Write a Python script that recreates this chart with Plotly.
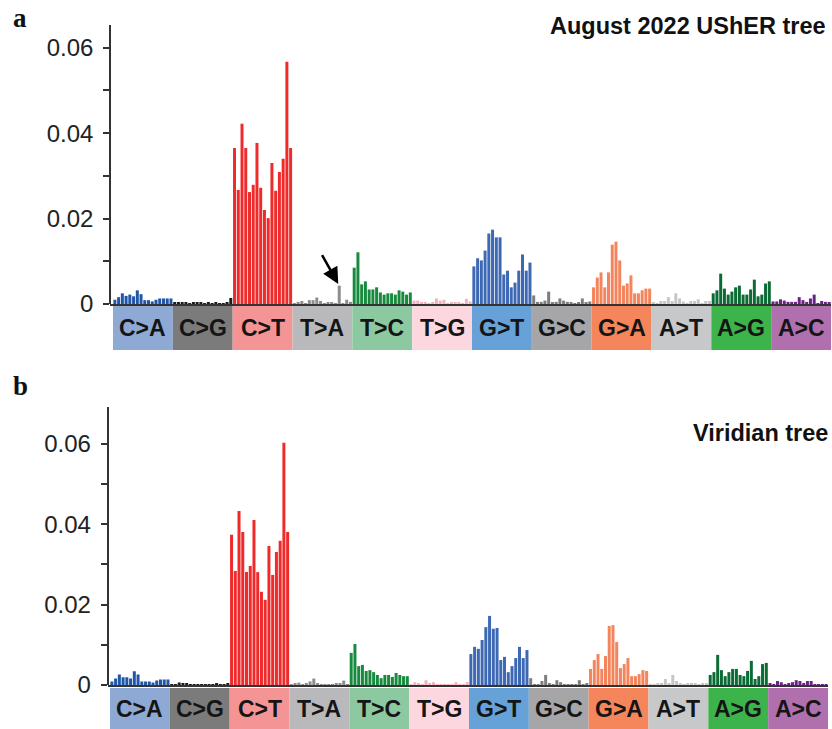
import plotly.graph_objects as go

# ---------------- data (rates, per 16 trinucleotide contexts) ----------------
mut_types = ["C>A", "C>G", "C>T", "T>A", "T>C", "T>G",
             "G>T", "G>C", "G>A", "A>T", "A>G", "A>C"]

bar_colors = ["#1f56a8", "#1c1c1c", "#ee2a2a", "#8c8c8c", "#178a3e", "#f6b0bd",
              "#3d68b4", "#7d7d7d", "#f3845c", "#c6c6c6", "#0b6b35", "#6b2185"]
box_colors = ["#8eaad4", "#7b7b7b", "#f59494", "#b9b9bb", "#8dc9a0", "#fdd7df",
              "#66a2d8", "#a6a6a9", "#f5855b", "#c7c8ca", "#3cb44b", "#b070ae"]

# panel a: August 2022 UShER tree
usher_CA = [0.0010, 0.0016, 0.0025, 0.0019, 0.0022, 0.0018, 0.0032, 0.0023, 0.0009, 0.0009, 0.0006, 0.0010, 0.0013, 0.0013, 0.0013, 0.0013]
usher_CG = [0.0004, 0.0003, 0.0003, 0.0004, 0.0002, 0.0004, 0.0004, 0.0003, 0.0002, 0.0003, 0.0002, 0.0003, 0.0001, 0.0002, 0.0003, 0.0014]
usher_CT = [0.0365, 0.0267, 0.0422, 0.0365, 0.0262, 0.0279, 0.0377, 0.0272, 0.0220, 0.0201, 0.0330, 0.0265, 0.0309, 0.0340, 0.0567, 0.0365]
usher_TA = [0.0002, 0.0005, 0.0007, 0.0002, 0.0009, 0.0009, 0.0015, 0.0007, 0.0002, 0.0004, 0.0004, 0.0002, 0.0043, 0.0001, 0.0010, 0.0005]
usher_TC = [0.0085, 0.0121, 0.0046, 0.0053, 0.0034, 0.0034, 0.0039, 0.0027, 0.0022, 0.0025, 0.0025, 0.0022, 0.0032, 0.0029, 0.0022, 0.0027]
usher_TG = [0.0008, 0.0008, 0.0003, 0.0005, 0.0002, 0.0004, 0.0013, 0.0008, 0.0010, 0.0002, 0.0004, 0.0004, 0.0004, 0.0002, 0.0012, 0.0006]
usher_GT = [0.0088, 0.0107, 0.0102, 0.0125, 0.0165, 0.0174, 0.0156, 0.0156, 0.0069, 0.0078, 0.0039, 0.0050, 0.0078, 0.0116, 0.0078, 0.0097]
usher_GC = [0.0020, 0.0005, 0.0005, 0.0008, 0.0029, 0.0003, 0.0005, 0.0013, 0.0008, 0.0005, 0.0003, 0.0002, 0.0003, 0.0013, 0.0003, 0.0006]
usher_GA = [0.0039, 0.0062, 0.0074, 0.0039, 0.0074, 0.0139, 0.0146, 0.0102, 0.0043, 0.0048, 0.0067, 0.0025, 0.0025, 0.0032, 0.0036, 0.0036]
usher_AT = [0.0004, 0.0001, 0.0007, 0.0007, 0.0016, 0.0007, 0.0025, 0.0013, 0.0006, 0.0001, 0.0007, 0.0007, 0.0011, 0.0001, 0.0007, 0.0007]
usher_AG = [0.0025, 0.0032, 0.0071, 0.0036, 0.0022, 0.0029, 0.0039, 0.0043, 0.0022, 0.0022, 0.0034, 0.0057, 0.0018, 0.0022, 0.0048, 0.0053]
usher_AC = [0.0006, 0.0006, 0.0011, 0.0008, 0.0005, 0.0005, 0.0005, 0.0016, 0.0009, 0.0005, 0.0013, 0.0022, 0.0001, 0.0007, 0.0005, 0.0004]

# panel b: Viridian tree
virid_CA = [0.0009, 0.0016, 0.0026, 0.0019, 0.0019, 0.0016, 0.0034, 0.0026, 0.0009, 0.0009, 0.0009, 0.0006, 0.0011, 0.0014, 0.0014, 0.0014]
virid_CG = [0.0001, 0.0001, 0.0006, 0.0004, 0.0004, 0.0001, 0.0001, 0.0001, 0.0001, 0.0001, 0.0001, 0.0001, 0.0004, 0.0001, 0.0001, 0.0004]
virid_CT = [0.0374, 0.0284, 0.0433, 0.0381, 0.0281, 0.0296, 0.0411, 0.0281, 0.0232, 0.0212, 0.0346, 0.0274, 0.0331, 0.0359, 0.0603, 0.0381]
virid_TA = [0.0001, 0.0004, 0.0006, 0.0001, 0.0004, 0.0009, 0.0016, 0.0004, 0.0001, 0.0001, 0.0001, 0.0001, 0.0004, 0.0004, 0.0011, 0.0001]
virid_TC = [0.0080, 0.0102, 0.0047, 0.0050, 0.0035, 0.0037, 0.0032, 0.0025, 0.0017, 0.0025, 0.0025, 0.0020, 0.0030, 0.0025, 0.0022, 0.0022]
virid_TG = [0.0001, 0.0007, 0.0005, 0.0002, 0.0012, 0.0005, 0.0007, 0.0001, 0.0002, 0.0001, 0.0002, 0.0001, 0.0007, 0.0001, 0.0002, 0.0007]
virid_GT = [0.0077, 0.0095, 0.0090, 0.0112, 0.0144, 0.0172, 0.0140, 0.0142, 0.0062, 0.0070, 0.0032, 0.0047, 0.0067, 0.0095, 0.0067, 0.0087]
virid_GC = [0.0017, 0.0001, 0.0002, 0.0010, 0.0025, 0.0005, 0.0002, 0.0012, 0.0007, 0.0002, 0.0002, 0.0001, 0.0001, 0.0012, 0.0002, 0.0005]
virid_GA = [0.0040, 0.0062, 0.0077, 0.0040, 0.0072, 0.0147, 0.0149, 0.0107, 0.0042, 0.0052, 0.0067, 0.0022, 0.0022, 0.0027, 0.0037, 0.0035]
virid_AT = [0.0002, 0.0001, 0.0005, 0.0003, 0.0015, 0.0005, 0.0025, 0.0010, 0.0005, 0.0001, 0.0005, 0.0005, 0.0003, 0.0001, 0.0005, 0.0005]
virid_AG = [0.0025, 0.0032, 0.0075, 0.0037, 0.0022, 0.0032, 0.0040, 0.0040, 0.0025, 0.0022, 0.0035, 0.0060, 0.0015, 0.0022, 0.0052, 0.0055]
virid_AC = [0.0005, 0.0002, 0.0010, 0.0007, 0.0002, 0.0005, 0.0007, 0.0012, 0.0010, 0.0005, 0.0010, 0.0010, 0.0001, 0.0001, 0.0001, 0.0001]

usher_series = [usher_CA, usher_CG, usher_CT, usher_TA, usher_TC, usher_TG,
                usher_GT, usher_GC, usher_GA, usher_AT, usher_AG, usher_AC]
virid_series = [virid_CA, virid_CG, virid_CT, virid_TA, virid_TC, virid_TG,
                virid_GT, virid_GC, virid_GA, virid_AT, virid_AG, virid_AC]

panel_titles = ["August 2022 UShER tree", "Viridian tree"]
panel_letters = ["a", "b"]
y_tickvals = [0, 0.02, 0.04, 0.06]
y_ticktext = ["0", "0.02", "0.04", "0.06"]
arrow_type, arrow_context = "T>A", 12   # highlighted bar in panel a

# ---------------- figure ----------------
W, H = 832, 729
N = 16
SANS = "Liberation Sans, Arial, sans-serif"

fig = go.Figure()


def px_x(p):
    return p / W


def px_y(p):
    return (H - p) / H


panels = [
    dict(series=usher_series, xa="x", ya="y", xdom=[px_x(110), px_x(831)], xr=[-1.3, 191.5],
         ydom=[px_y(304), px_y(25)], yr=[0, 0.0653], box=[px_y(350), px_y(306)]),
    dict(series=virid_series, xa="x2", ya="y2", xdom=[px_x(107.5), px_x(828)], xr=[-1.17, 191.5],
         ydom=[px_y(685), px_y(407)], yr=[0, 0.0692], box=[px_y(729), px_y(688)]),
]

for p in panels:
    xs, ys, cs = [], [], []
    for k, vals in enumerate(p["series"]):
        for j, v in enumerate(vals):
            xs.append(k * N + j)
            ys.append(v)
            cs.append(bar_colors[k])
    fig.add_trace(go.Bar(x=xs, y=ys, marker=dict(color=cs, line=dict(width=0)),
                         xaxis=p["xa"], yaxis=p["ya"], showlegend=False, hoverinfo="skip"))
    for k, t in enumerate(mut_types):
        fig.add_shape(type="rect", xref=p["xa"], yref="paper",
                      x0=k * N - 0.5, x1=k * N + N - 0.5, y0=p["box"][0], y1=p["box"][1],
                      fillcolor=box_colors[k], line=dict(width=0), layer="below")
        fig.add_annotation(x=k * N + (N - 1) / 2, y=(p["box"][0] + p["box"][1]) / 2,
                           xref=p["xa"], yref="paper", yanchor="middle",
                           text="<b>%s</b>" % t.replace(">", "&gt;"),
                           showarrow=False, font=dict(family=SANS, size=23, color="#151515"))

axis_common = dict(showgrid=False, zeroline=False, automargin=False)
for i, p in enumerate(panels):
    sfx = "" if i == 0 else "2"
    fig.update_layout(**{
        "xaxis" + sfx: dict(domain=p["xdom"], range=p["xr"], anchor=p["ya"], showticklabels=False,
                            ticks="", showline=True, linecolor="#333333", linewidth=2, **axis_common),
        "yaxis" + sfx: dict(domain=p["ydom"], range=p["yr"], anchor="free",
                            position=p["xdom"][0], showline=True, linecolor="#333333", linewidth=1.5,
                            tickvals=y_tickvals, ticktext=y_ticktext, ticks="outside", ticklen=6,
                            tickwidth=1.5, tickcolor="#333333", ticklabelstandoff=5,
                            minor=dict(tickvals=[0.01, 0.03, 0.05], ticks="outside", ticklen=6,
                                       tickwidth=1.5, tickcolor="#333333"),
                            tickfont=dict(family=SANS, size=24, color="#222222"), **axis_common),
    })

# titles
fig.add_annotation(x=px_x(828), y=px_y(26), xref="paper", yref="paper", xanchor="right", yanchor="middle",
                   text="<b>%s</b>" % panel_titles[0], showarrow=False,
                   font=dict(family=SANS, size=23.5, color="#111111"))
fig.add_annotation(x=px_x(830), y=px_y(433), xref="paper", yref="paper", xanchor="right", yanchor="middle",
                   text="<b>%s</b>" % panel_titles[1], showarrow=False,
                   font=dict(family=SANS, size=23.5, color="#111111"))

# panel letters
fig.add_annotation(x=px_x(11), y=px_y(18), xref="paper", yref="paper", xanchor="left", yanchor="middle",
                   text="<b>%s</b>" % panel_letters[0], showarrow=False,
                   font=dict(family="Liberation Serif, DejaVu Serif, serif", size=27, color="#111111"))
fig.add_annotation(x=px_x(11), y=px_y(386), xref="paper", yref="paper", xanchor="left", yanchor="middle",
                   text="<b>%s</b>" % panel_letters[1], showarrow=False,
                   font=dict(family="Liberation Serif, DejaVu Serif, serif", size=27, color="#111111"))

# arrow to highlighted bar
k_arrow = mut_types.index(arrow_type)
fig.add_annotation(x=k_arrow * N + arrow_context, y=usher_series[k_arrow][arrow_context],
                   xref="x", yref="y", ax=-18, ay=-32, showarrow=True, text="",
                   arrowhead=2, arrowsize=1.3, arrowwidth=2.5, arrowcolor="#000000", standoff=2)

fig.update_layout(width=W, height=H, autosize=False, margin=dict(l=0, r=0, t=0, b=0, pad=0),
                  paper_bgcolor="white", plot_bgcolor="white", bargap=0.2, showlegend=False)

fig.write_html("out.html")
